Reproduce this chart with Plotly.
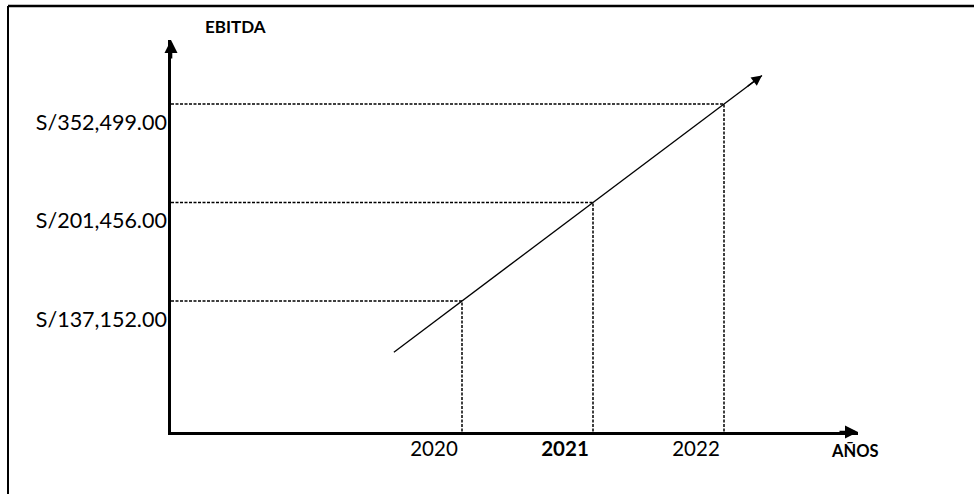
import numpy as np
import plotly.graph_objects as go

# ---- data ----
years = [2020, 2021, 2022]
ebitda = [137152.00, 201456.00, 352499.00]
year_labels = ["2020", "<b>2021</b>", "2022"]
ebitda_labels = [f"S/{v:,.2f}" for v in ebitda]
y_title = "EBITDA"
x_title = "AÑOS"

# schematic: values are placed on equally spaced levels by rank
order = sorted(ebitda)
levels = [order.index(v) + 1 for v in ebitda]

W, H = 974, 494
ML, MR, MT, MB = 171, 116, 40, 62
px_per_year = 131.0
px_per_level = 98.5
pw, ph = W - ML - MR, H - MT - MB
x0 = years[0] - (462 - ML) / px_per_year
x1 = x0 + pw / px_per_year
y0 = levels[0] - (H - MB - 301) / px_per_level
y1 = y0 + ph / px_per_level

FONT = "Lato"
fig = go.Figure()

# dashed guide lines
for yr, lv in zip(years, levels):
    fig.add_trace(go.Scatter(
        x=[x0, yr, yr], y=[lv, lv, y0], mode="lines",
        line=dict(color="black", width=1.5, dash="3px,1.5px"),
        hoverinfo="skip", showlegend=False))

# trend line (linear fit through the points, extended)
slope, inter = np.polyfit(years, levels, 1)
tx = np.array([years[0] - 0.52, years[-1] + 0.29])
ty = slope * tx + inter
fig.add_trace(go.Scatter(x=tx, y=ty, mode="lines",
                         line=dict(color="black", width=1.3),
                         hoverinfo="skip", showlegend=False))

annotations = [
    # trend arrow head
    dict(x=tx[1], y=ty[1], ax=tx[1] - 0.12, ay=ty[1] - 0.12 * slope,
         xref="x", yref="y", axref="x", ayref="y", showarrow=True,
         arrowhead=2, arrowsize=1.6, arrowwidth=1.3, arrowcolor="black", text=""),
    # axis arrow heads
    dict(x=0, y=1, xref="paper", yref="paper", ax=0, ay=20, showarrow=True,
         arrowhead=2, arrowsize=1, arrowwidth=2.6, arrowcolor="black", text=""),
    dict(x=1, y=0, xref="paper", yref="paper", ax=-20, ay=0, showarrow=True,
         arrowhead=2, arrowsize=1, arrowwidth=2.6, arrowcolor="black", text=""),
    # axis titles
    dict(x=(235 - ML) / pw, y=(H - MB - 27) / ph, xref="paper", yref="paper",
         xanchor="center", yanchor="middle",
         text=f"<b>{y_title}</b>", showarrow=False,
         font=dict(family=FONT, size=17, color="black")),
    dict(x=(855 - ML) / pw, y=(H - MB - 451) / ph, xref="paper", yref="paper",
         xanchor="center", yanchor="middle",
         text=f"<b>{x_title}</b>", showarrow=False,
         font=dict(family=FONT, size=16.5, color="black")),
]

shapes = [
    # outer frame (top and left edges)
    dict(type="line", xref="paper", yref="paper",
         x0=(8 - ML) / pw, x1=(W + 5 - ML) / pw,
         y0=(H - MB - 6) / ph, y1=(H - MB - 6) / ph,
         line=dict(color="black", width=2.3)),
    dict(type="line", xref="paper", yref="paper",
         x0=(8 - ML) / pw, x1=(8 - ML) / pw,
         y0=(H - MB - 6) / ph, y1=(H - MB - H - 5) / ph,
         line=dict(color="black", width=2)),
]

fig.update_layout(
    width=W, height=H,
    margin=dict(l=ML, r=MR, t=MT, b=MB),
    paper_bgcolor="white", plot_bgcolor="white",
    font=dict(family=FONT, size=21.5, color="black"),
    annotations=annotations, shapes=shapes,
    xaxis=dict(range=[x0, x1], showgrid=False, zeroline=False,
               showline=True, linecolor="black", linewidth=2.6,
               tickvals=years, ticktext=year_labels, ticks="",
               ticklabelshift=-28, ticklabelstandoff=-3,
               tickfont=dict(family=FONT, size=20.5, color="black")),
    yaxis=dict(range=[y0, y1], showgrid=False, zeroline=False,
               showline=True, linecolor="black", linewidth=2.6,
               tickvals=levels, ticktext=ebitda_labels, ticks="",
               ticklabelshift=18, ticklabelstandoff=-3,
               tickfont=dict(family=FONT, size=21.5, color="black")),
)

fig.write_html("out.html")
